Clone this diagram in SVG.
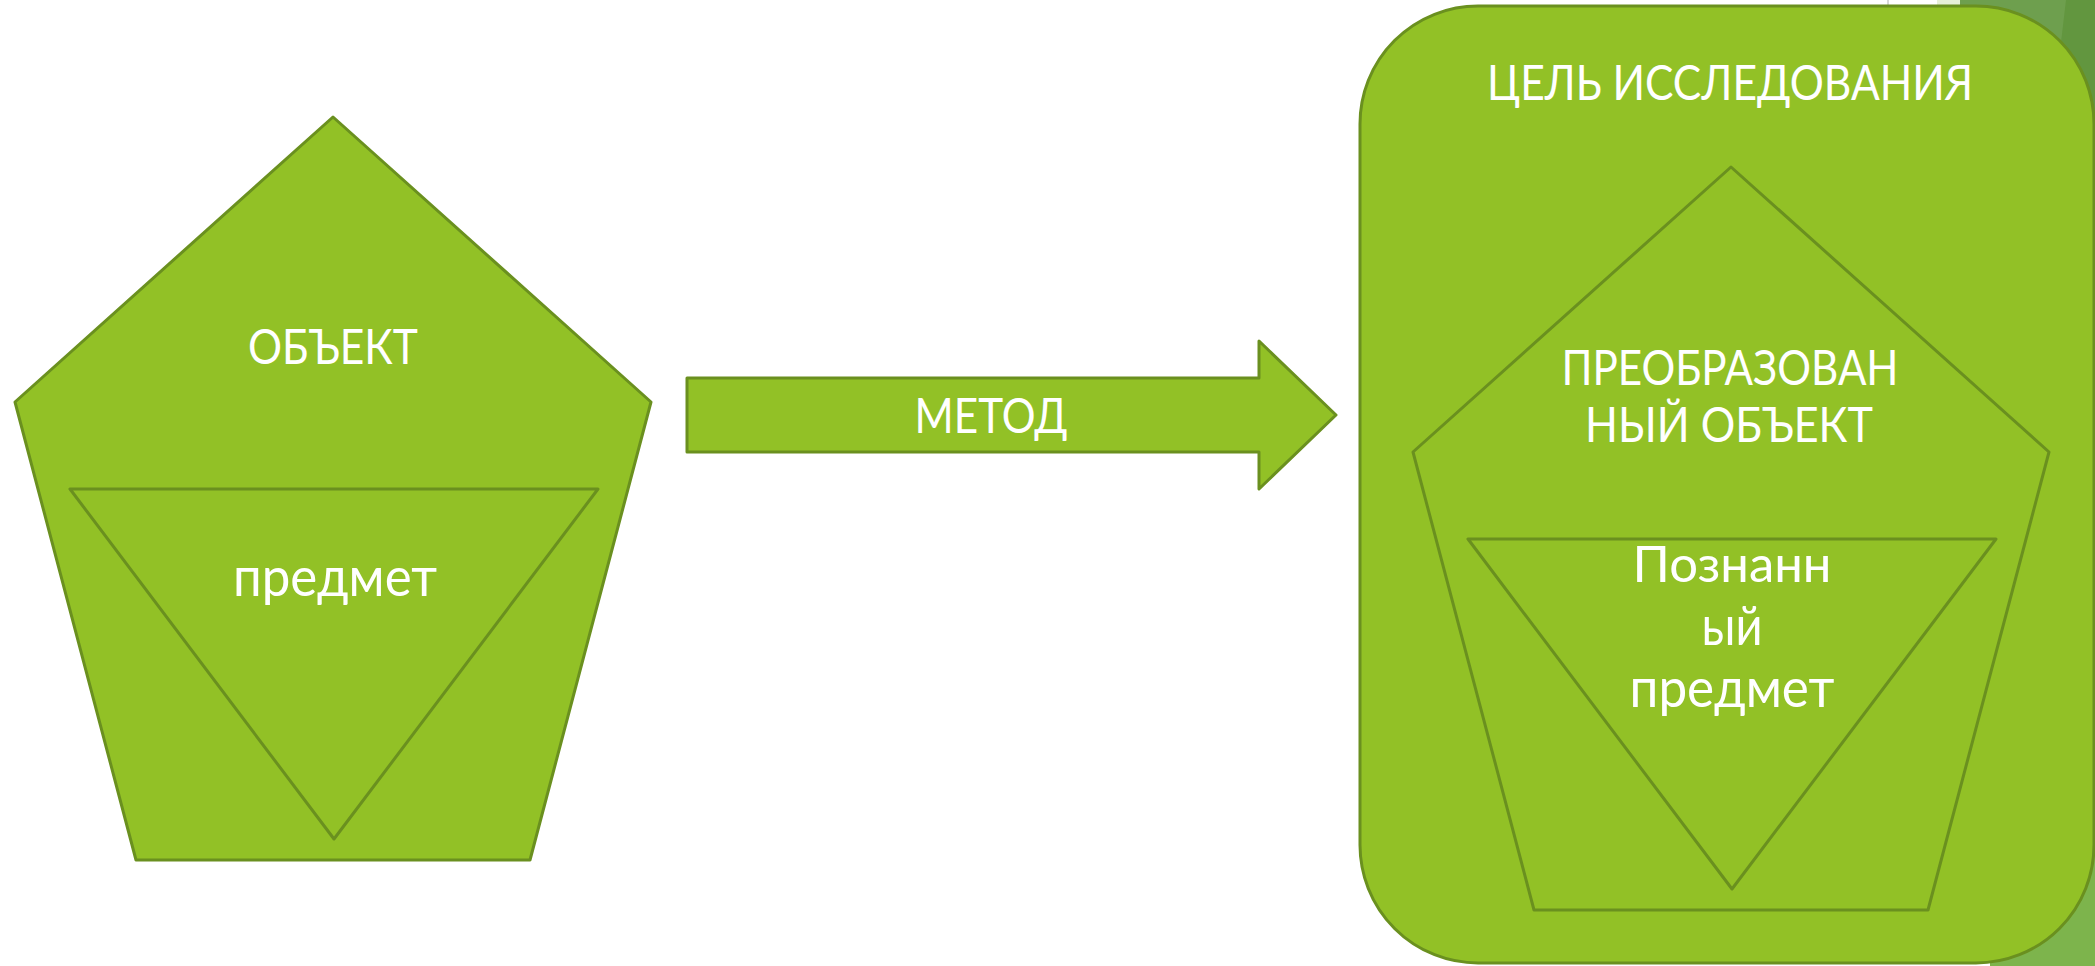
<svg xmlns="http://www.w3.org/2000/svg" width="2095" height="966" viewBox="0 0 2095 966">
  <style>
    .shape { fill: #92c126; stroke: #6a901f; stroke-width: 3; stroke-linejoin: round; }
    .line { fill: none; stroke: #6a901f; stroke-width: 3; stroke-linejoin: round; }
    .lbl { font-family: Lato, "Open Sans", "DejaVu Sans", sans-serif; font-size: 49px; fill: #ffffff; text-anchor: middle; }
    .lc { font-size: 54px; }
    .mx { font-size: 51px; }
  </style>
  <defs>
    <g id="pent">
      <polygon class="shape" points="333,117 651,402 530,860 136,860 15,402"/>
      <polygon class="line" points="70,489 598,489 334,839"/>
    </g>
  </defs>
  <rect x="0" y="0" width="2095" height="966" fill="#ffffff"/>
  <g id="background">
    <rect x="1937" y="0" width="25" height="6" fill="#e6efd6"/>
    <line x1="1888" y1="0" x2="1888" y2="6" stroke="#b0b0b0" stroke-width="1"/>
    <polygon points="1960,0 2095,0 2095,220 1960,220" fill="#6e9f4e"/>
    <polygon points="2066,0 2095,0 2095,220 2040,220" fill="#62963f"/>
    <polygon points="1990,840 2095,840 2095,966 1990,966" fill="#7db44c"/>
  </g>
  <g id="object">
    <use href="#pent"/>
    <text class="lbl" x="333" y="364" textLength="170" lengthAdjust="spacingAndGlyphs">ОБЪЕКТ</text>
    <text class="lbl lc" x="335" y="596" textLength="204" lengthAdjust="spacingAndGlyphs">предмет</text>
  </g>
  <g id="connectors">
    <g id="method">
      <polygon class="shape" points="687,378 1259,378 1259,341 1336,415 1259,489 1259,452 687,452"/>
      <text class="lbl" x="991" y="433" textLength="153" lengthAdjust="spacingAndGlyphs">МЕТОД</text>
    </g>
  </g>
  <g id="goal">
    <rect class="shape" x="1360" y="6" width="734" height="957" rx="118" ry="118"/>
    <text class="lbl" x="1730" y="100" textLength="486" lengthAdjust="spacingAndGlyphs">ЦЕЛЬ ИССЛЕДОВАНИЯ</text>
    <use href="#pent" transform="translate(1398,50)"/>
    <text class="lbl" x="1730" y="385" textLength="337" lengthAdjust="spacingAndGlyphs">ПРЕОБРАЗОВАН</text>
    <text class="lbl" x="1729" y="442" textLength="288" lengthAdjust="spacingAndGlyphs">НЫЙ ОБЪЕКТ</text>
    <text class="lbl mx" x="1732" y="582" textLength="199" lengthAdjust="spacingAndGlyphs">Познанн</text>
    <text class="lbl lc" x="1732" y="645" textLength="61" lengthAdjust="spacingAndGlyphs">ый</text>
    <text class="lbl lc" x="1732" y="707" textLength="205" lengthAdjust="spacingAndGlyphs">предмет</text>
  </g>
</svg>
